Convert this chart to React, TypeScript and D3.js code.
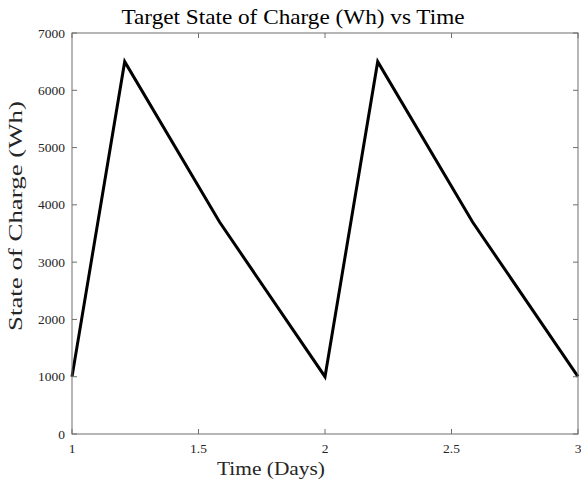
import React from "react";
import * as d3 from "d3";

// Target state-of-charge profile over two days
const timeDays = [1, 1.2083, 1.5833, 2, 2.2083, 2.5833, 3];
const chargeWh = [1000, 6500, 3700, 1000, 6500, 3700, 1000];
const xTicks = [1, 1.5, 2, 2.5, 3];
const yTicks = [0, 1000, 2000, 3000, 4000, 5000, 6000, 7000];

const W = 581;
const H = 489;
const m = { left: 72, right: 3, top: 33, bottom: 55 };
const FONT = "'Liberation Serif', 'DejaVu Serif', serif";

export default function App() {
  const x = d3.scaleLinear().domain([1, 3]).range([m.left, W - m.right]);
  const y = d3.scaleLinear().domain([0, 7000]).range([H - m.bottom, m.top]);
  const line = d3
    .line<number>()
    .x((_, i) => x(timeDays[i]))
    .y((d) => y(d));
  const axisColor = "#6e6e6e";
  const tickLen = 5;
  const x0 = x(1), x1 = x(3), y0 = y(0), y1 = y(7000);

  return (
    <svg
      width={W}
      height={H}
      style={{ position: "absolute", left: 0, top: 0, background: "#fff" }}
    >
      <path
        d={line(chargeWh) || ""}
        fill="none"
        stroke="#000"
        strokeWidth={3}
        strokeLinejoin="miter"
      />
      <rect
        x={x0}
        y={y1}
        width={x1 - x0}
        height={y0 - y1}
        fill="none"
        stroke={axisColor}
        strokeWidth={1}
      />
      {xTicks.map((t) => (
        <g key={"x" + t}>
          <line x1={x(t)} x2={x(t)} y1={y0} y2={y0 - tickLen} stroke={axisColor} />
          <line x1={x(t)} x2={x(t)} y1={y1} y2={y1 + tickLen} stroke={axisColor} />
          <text
            x={x(t)}
            y={y0 + 19}
            textAnchor="middle"
            fontFamily={FONT}
            fontSize={13.5}
            fill="#262626"
          >
            {t}
          </text>
        </g>
      ))}
      {yTicks.map((t) => (
        <g key={"y" + t}>
          <line x1={x0} x2={x0 + tickLen} y1={y(t)} y2={y(t)} stroke={axisColor} />
          <line x1={x1} x2={x1 - tickLen} y1={y(t)} y2={y(t)} stroke={axisColor} />
          <text
            x={x0 - 7}
            y={y(t) + 4.5}
            textAnchor="end"
            fontFamily={FONT}
            fontSize={13.5}
            fill="#262626"
          >
            {t}
          </text>
        </g>
      ))}
      <text
        x={(x0 + x1) / 2 - 32}
        y={24}
        textAnchor="middle"
        fontFamily={FONT}
        fontSize={21}
        fill="#000"
        textLength={343}
        lengthAdjust="spacingAndGlyphs"
      >
        Target State of Charge (Wh) vs Time
      </text>
      <text
        x={271}
        y={475}
        textAnchor="middle"
        fontFamily={FONT}
        fontSize={18}
        fill="#262626"
        textLength={108}
        lengthAdjust="spacingAndGlyphs"
      >
        Time (Days)
      </text>
      <text
        transform={`translate(22, 216) rotate(-90)`}
        textAnchor="middle"
        fontFamily={FONT}
        fontSize={18}
        fill="#262626"
        textLength={230}
        lengthAdjust="spacingAndGlyphs"
      >
        State of Charge (Wh)
      </text>
    </svg>
  );
}
